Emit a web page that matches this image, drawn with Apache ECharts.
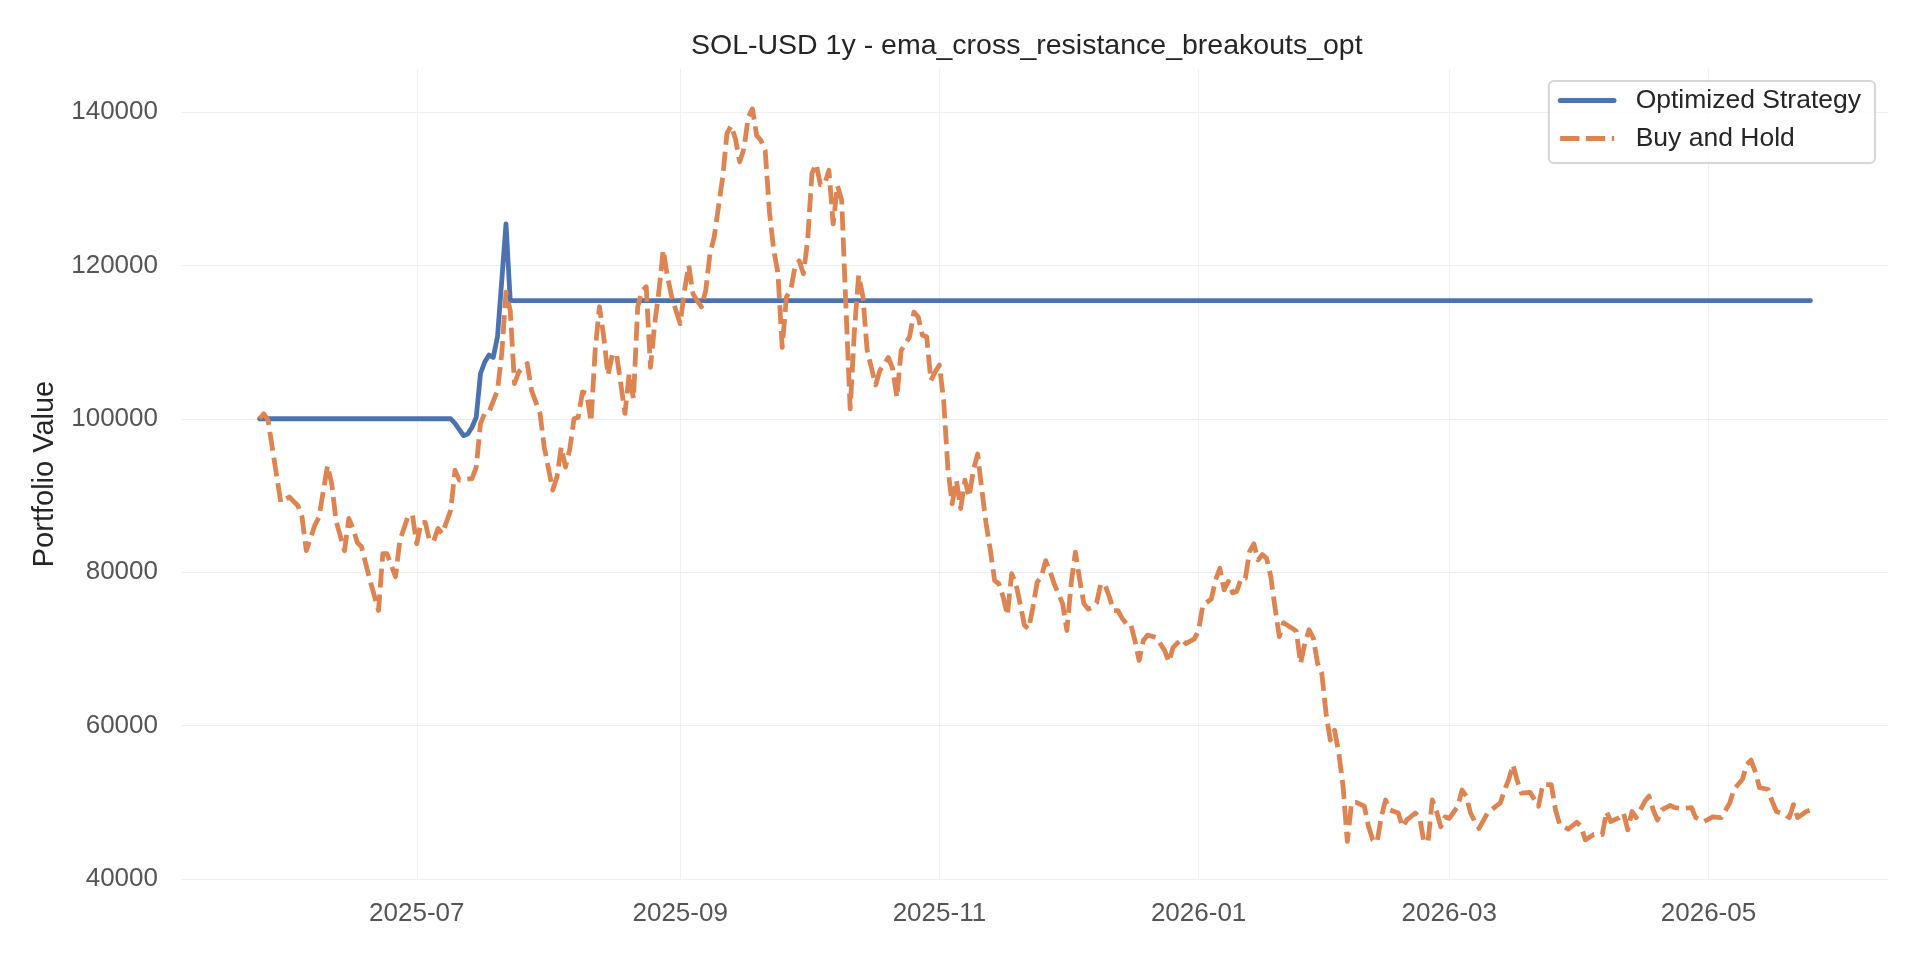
<!DOCTYPE html>
<html>
<head>
<meta charset="utf-8">
<title>SOL-USD 1y - ema_cross_resistance_breakouts_opt</title>
<script src="https://cdn.jsdelivr.net/npm/echarts@6/dist/echarts.min.js"></script>
<style>
  html, body { margin: 0; padding: 0; background: #fff; }
  #chart { width: 1920px; height: 960px; }
</style>
</head>
<body>
<div id="chart"></div>
<script>
// Buy and Hold portfolio value (irregular dates)
const holdDates = [
  '2025-05-25','2025-05-26','2025-05-27','2025-05-30','2025-06-01','2025-06-03','2025-06-04','2025-06-05',
  '2025-06-07','2025-06-08','2025-06-10','2025-06-11','2025-06-12','2025-06-14','2025-06-15','2025-06-16',
  '2025-06-17','2025-06-18','2025-06-20','2025-06-22','2025-06-23','2025-06-24','2025-06-26','2025-06-27',
  '2025-06-29','2025-06-30','2025-07-01','2025-07-02','2025-07-03','2025-07-04','2025-07-05','2025-07-06',
  '2025-07-07','2025-07-09','2025-07-10','2025-07-11','2025-07-14','2025-07-15','2025-07-16','2025-07-17',
  '2025-07-18','2025-07-20','2025-07-21','2025-07-22','2025-07-23','2025-07-24','2025-07-25','2025-07-27',
  '2025-07-28','2025-07-30','2025-07-31','2025-08-02','2025-08-03','2025-08-04','2025-08-05','2025-08-06',
  '2025-08-07','2025-08-08','2025-08-09','2025-08-10','2025-08-11','2025-08-12','2025-08-13','2025-08-14',
  '2025-08-15','2025-08-16','2025-08-17','2025-08-18','2025-08-19','2025-08-20','2025-08-21','2025-08-22',
  '2025-08-23','2025-08-24','2025-08-25','2025-08-26','2025-08-27','2025-08-28','2025-08-29','2025-08-30',
  '2025-08-31','2025-09-01','2025-09-02','2025-09-03','2025-09-04','2025-09-05','2025-09-06','2025-09-07',
  '2025-09-08','2025-09-09','2025-09-10','2025-09-11','2025-09-12','2025-09-13','2025-09-14','2025-09-15',
  '2025-09-16','2025-09-17','2025-09-18','2025-09-19','2025-09-20','2025-09-21','2025-09-22','2025-09-23',
  '2025-09-24','2025-09-25','2025-09-26','2025-09-27','2025-09-28','2025-09-29','2025-09-30','2025-10-01',
  '2025-10-02','2025-10-03','2025-10-04','2025-10-05','2025-10-06','2025-10-07','2025-10-08','2025-10-09',
  '2025-10-10','2025-10-11','2025-10-12','2025-10-13','2025-10-14','2025-10-15','2025-10-17','2025-10-18',
  '2025-10-20','2025-10-21','2025-10-22','2025-10-23','2025-10-24','2025-10-25','2025-10-26','2025-10-27',
  '2025-10-28','2025-10-29','2025-10-30','2025-10-31','2025-11-01','2025-11-02','2025-11-03','2025-11-04',
  '2025-11-05','2025-11-06','2025-11-07','2025-11-08','2025-11-09','2025-11-10','2025-11-11','2025-11-12',
  '2025-11-13','2025-11-14','2025-11-15','2025-11-16','2025-11-17','2025-11-18','2025-11-19','2025-11-20',
  '2025-11-21','2025-11-22','2025-11-23','2025-11-24','2025-11-25','2025-11-26','2025-11-27','2025-11-28',
  '2025-11-29','2025-11-30','2025-12-01','2025-12-02','2025-12-03','2025-12-04','2025-12-05','2025-12-06',
  '2025-12-07','2025-12-08','2025-12-09','2025-12-10','2025-12-11','2025-12-12','2025-12-13','2025-12-14',
  '2025-12-15','2025-12-16','2025-12-17','2025-12-18','2025-12-19','2025-12-20','2025-12-22','2025-12-24',
  '2025-12-25','2025-12-26','2025-12-28','2025-12-29','2025-12-31','2026-01-01','2026-01-02','2026-01-04',
  '2026-01-05','2026-01-06','2026-01-07','2026-01-08','2026-01-09','2026-01-10','2026-01-11','2026-01-12',
  '2026-01-13','2026-01-14','2026-01-15','2026-01-16','2026-01-17','2026-01-18','2026-01-19','2026-01-20',
  '2026-01-21','2026-01-23','2026-01-24','2026-01-25','2026-01-26','2026-01-27','2026-01-28','2026-01-29',
  '2026-01-30','2026-01-31','2026-02-01','2026-02-02','2026-02-03','2026-02-04','2026-02-05','2026-02-06',
  '2026-02-07','2026-02-09','2026-02-10','2026-02-11','2026-02-12','2026-02-13','2026-02-14','2026-02-15',
  '2026-02-17','2026-02-18','2026-02-19','2026-02-21','2026-02-22','2026-02-23','2026-02-24','2026-02-25',
  '2026-02-26','2026-02-27','2026-02-28','2026-03-01','2026-03-03','2026-03-04','2026-03-05','2026-03-06',
  '2026-03-07','2026-03-08','2026-03-10','2026-03-12','2026-03-13','2026-03-14','2026-03-15','2026-03-16',
  '2026-03-17','2026-03-18','2026-03-20','2026-03-22','2026-03-23','2026-03-25','2026-03-26','2026-03-27',
  '2026-03-29','2026-03-31','2026-04-01','2026-04-02','2026-04-04','2026-04-06','2026-04-07','2026-04-08',
  '2026-04-10','2026-04-11','2026-04-12','2026-04-13','2026-04-14','2026-04-16','2026-04-17','2026-04-18',
  '2026-04-19','2026-04-20','2026-04-22','2026-04-23','2026-04-25','2026-04-27','2026-04-28','2026-04-30',
  '2026-05-02','2026-05-04','2026-05-06','2026-05-07','2026-05-09','2026-05-10','2026-05-11','2026-05-12',
  '2026-05-13','2026-05-15','2026-05-16','2026-05-17','2026-05-19','2026-05-20','2026-05-21','2026-05-22',
  '2026-05-24','2026-05-25'
];
const holdValues = [
  100000,100650,99800,89100,89800,88700,87200,82800,
  86100,87200,93900,91500,86700,82800,87000,85700,
  83900,83300,78900,75000,82400,82400,79400,84100,
  87400,87400,83700,86500,86500,84100,84100,85700,
  85000,88100,93300,92000,92200,93700,99400,100700,
  100900,103700,108500,116500,114100,104600,106100,107200,
  103700,100700,96300,90700,92400,96300,93700,96000,
  100000,100200,103500,103300,99600,109100,114600,110700,
  105700,108300,108500,104600,100700,105900,102600,114600,
  116700,117200,106700,112400,116700,122000,118500,115900,
  114100,112400,116700,120000,116300,115400,114600,116700,
  121500,123700,127600,131500,137200,138200,136500,133500,
  135200,139300,140400,136900,136300,135000,127000,122000,
  119000,109300,115900,116700,119800,120600,118900,123300,
  132000,133200,130500,130600,132400,125400,130400,128500,
  114600,101300,111500,118700,115900,108900,104400,106300,
  108000,106500,102800,108900,109800,110700,113900,113300,
  110900,110700,105000,106100,107000,102400,93500,88900,
  92000,88300,92000,89800,93300,95400,90700,86300,
  82800,78900,78500,76800,74400,79800,78500,75900,
  73100,72600,75400,78700,79400,81500,80200,78500,
  77200,75900,72400,78500,82600,79100,75900,75200,
  75400,76000,78500,78300,76800,75000,75000,74000,
  73300,73300,71100,68500,71100,71800,71500,69800,
  68300,70200,71300,70700,71300,72400,75700,76500,
  79000,80500,77700,78800,77300,77500,79200,79200,
  82700,83700,81600,82300,81800,79400,75300,71600,
  73400,72700,72300,68100,70700,72500,71400,68100,
  66800,61600,58100,59400,56400,52100,44900,49900,
  50000,49500,46800,45100,44800,48100,50300,49000,
  48600,46800,47700,48600,48100,44900,44900,50300,
  48800,46800,48100,47900,49500,51600,50800,48600,
  47500,46600,48600,49500,49900,51600,53000,54900,
  52800,51200,51300,49500,52300,52300,49000,47100,
  46500,47400,46900,45100,45800,45800,48800,47500,
  48000,48600,46400,48800,48000,50100,50800,49000,
  47700,49000,49600,49300,49200,49300,48000,47500,
  48100,48000,49900,51700,53000,54900,55500,54000,
  51900,51700,50100,48800,48400,48000,49700,48000,
  48800,49000
];

// Optimized Strategy portfolio value
const stratDates = [
  '2025-05-25','2025-07-09','2025-07-10','2025-07-12','2025-07-13','2025-07-14','2025-07-15','2025-07-16',
  '2025-07-17','2025-07-18','2025-07-19','2025-07-20','2025-07-21','2025-07-22','2025-07-23','2026-05-25'
];
const stratValues = [
  100000,100000,99400,97800,98000,98900,100200,105900,
  107400,108300,108000,110700,118000,125400,115400,115400
];

// x tick positions (every two months) and y tick step
const tickDates = ['2025-07-01','2025-09-01','2025-11-01','2026-01-01','2026-03-01','2026-05-01'];
const yTickStep = 20000;

// dates are placed on a plain value axis as UTC timestamps
const toTime = s => Date.parse(s + 'T00:00:00Z');
const pad2 = n => (n < 10 ? '0' : '') + n;
const HOUR = 3600 * 1000;

const chart = echarts.init(document.getElementById('chart'), null, {renderer: 'canvas'});
const font = '"Liberation Sans", Arial, sans-serif';
const gridColor = '#efefef';
const tickTimes = tickDates.map(toTime);

// legend swatches: a solid bar with round ends and a dashed bar, like the plotted lines
const solidIcon = 'path://M2.5,0H56.2A2.5,2.5,0,0,1,56.2,5H2.5A2.5,2.5,0,0,1,2.5,0Z';
const dashIcon = 'path://M0,0H19.3V5H0Z M25.7,0H45V5H25.7Z M51.7,0H54V5H51.7Z';

chart.setOption({
  animation: false,
  backgroundColor: '#ffffff',
  title: {
    text: 'SOL-USD 1y - ema_cross_resistance_breakouts_opt',
    left: 691,
    top: 32,
    padding: 0,
    textStyle: {fontFamily: font, fontSize: 28.5, fontWeight: 'normal', color: '#262626'}
  },
  legend: {
    orient: 'vertical',
    right: 45,
    top: 81,
    padding: [6, 14, 11, 9],
    itemWidth: 59,
    itemHeight: 5,
    itemGap: 11,
    borderColor: '#d6d6d6',
    borderWidth: 2,
    borderRadius: 5,
    backgroundColor: 'rgba(255,255,255,0.8)',
    itemStyle: {borderWidth: 0},
    textStyle: {fontFamily: font, fontSize: 26.5, color: '#262626', padding: [0, 0, 0, 14]},
    data: [
      {name: 'Optimized Strategy', icon: solidIcon},
      {name: 'Buy and Hold', icon: dashIcon}
    ]
  },
  grid: {left: 182, right: 32, top: 69, bottom: 81, containLabel: false},
  xAxis: {
    type: 'value',
    min: toTime('2025-05-06') + 18 * HOUR,
    max: toTime('2026-06-12') + 6 * HOUR,
    axisLine: {show: false},
    axisTick: {show: false, customValues: tickTimes},
    axisLabel: {
      customValues: tickTimes,
      fontFamily: font,
      fontSize: 26,
      color: '#555555',
      margin: 22,
      formatter: v => {
        const d = new Date(v);
        return d.getUTCFullYear() + '-' + pad2(d.getUTCMonth() + 1);
      }
    },
    splitLine: {show: true, lineStyle: {color: gridColor, width: 1}}
  },
  yAxis: {
    type: 'value',
    min: 40000,
    max: 145600,
    interval: yTickStep,
    name: 'Portfolio Value',
    nameLocation: 'middle',
    nameGap: 123,
    nameTextStyle: {fontFamily: font, fontSize: 29, color: '#262626'},
    axisLine: {show: false},
    axisTick: {show: false},
    axisLabel: {
      fontFamily: font,
      fontSize: 26,
      color: '#555555',
      margin: 24,
      showMaxLabel: false,
      formatter: v => String(v)
    },
    splitLine: {show: true, showMaxLine: false, lineStyle: {color: gridColor, width: 1}}
  },
  series: [
    {
      name: 'Optimized Strategy',
      type: 'line',
      showSymbol: false,
      symbol: 'none',
      color: '#4c72b0',
      lineStyle: {width: 4.8, color: '#4c72b0', cap: 'round', join: 'round'},
      data: stratDates.map((d, i) => [toTime(d), stratValues[i]])
    },
    {
      name: 'Buy and Hold',
      type: 'line',
      showSymbol: false,
      symbol: 'none',
      color: '#dd8452',
      lineStyle: {width: 4.8, color: '#dd8452', type: [19, 7], cap: 'butt', join: 'round'},
      data: holdDates.map((d, i) => [toTime(d), holdValues[i]])
    }
  ]
});
</script>
</body>
</html>
